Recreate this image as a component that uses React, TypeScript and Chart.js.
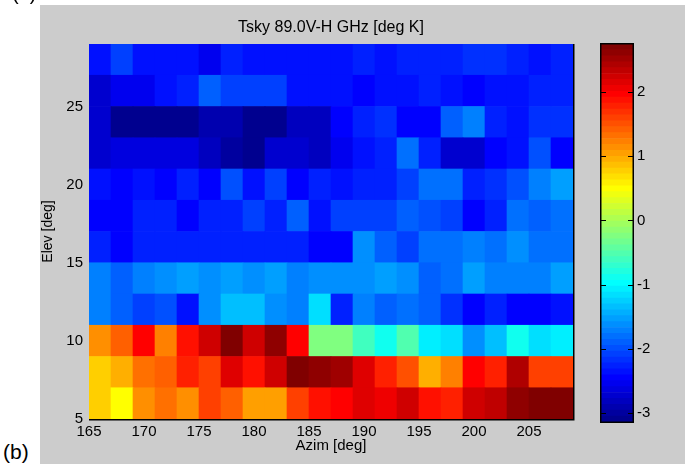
import { useEffect, useRef } from 'react';
import { Chart, registerables } from 'chart.js';

Chart.register(...registerables);

// Column centres (azimuth, deg) and row centres (elevation, deg)
const azimuths = [166, 168, 170, 172, 174, 176, 178, 180, 182, 184, 186, 188, 190, 192, 194, 196, 198, 200, 202, 204, 206, 208];
const elevations = [6, 8, 10, 12, 14, 16, 18, 20, 22, 24, 26, 28];

// Tsky 89.0V-H GHz [deg K], one array per elevation row, left to right in azimuth
const tsky_el06 = [0.78, 0.54, 1.15, 1.33, 1.18, 1.56, 1.39, 1.09, 1.09, 1.62, 1.84, 2.0, 2.13, 2.08, 2.21, 1.9, 1.75, 2.21, 2.37, 2.57, 2.75, 2.67];
const tsky_el08 = [0.78, 0.94, 1.36, 1.44, 1.78, 1.59, 2.13, 1.9, 2.28, 2.75, 2.64, 2.55, 2.14, 1.78, 1.53, 1.0, 1.21, 2.01, 1.75, 2.43, 1.62, 1.56];
const tsky_el10 = [1.18, 1.39, 2.01, 1.24, 1.84, 2.28, 2.75, 2.28, 2.59, 2.01, -0.23, -0.23, -0.58, -0.93, -0.54, -1.08, -1.13, -1.6, -1.32, -0.93, -1.2, -1.11];
const tsky_el12 = [-1.68, -1.88, -2.05, -2.0, -2.35, -1.65, -1.39, -1.39, -1.65, -1.7, -1.14, -2.22, -1.7, -1.93, -1.83, -1.88, -2.2, -2.47, -2.3, -2.47, -2.47, -2.36];
const tsky_el14 = [-1.7, -1.9, -1.7, -1.65, -1.57, -1.65, -1.57, -1.62, -1.54, -1.68, -1.65, -1.6, -1.65, -1.51, -1.65, -1.88, -1.77, -1.51, -1.7, -1.68, -1.7, -1.57];
const tsky_el16 = [-2.24, -2.45, -2.27, -2.22, -2.22, -2.22, -2.22, -2.22, -2.22, -2.27, -2.47, -2.47, -1.6, -1.88, -2.05, -1.83, -1.83, -1.7, -1.77, -1.65, -1.83, -1.77];
const tsky_el18 = [-2.45, -2.47, -2.27, -2.27, -2.42, -2.25, -2.25, -2.05, -2.22, -1.88, -2.38, -2.05, -2.05, -2.05, -1.93, -2.0, -2.1, -2.42, -2.24, -1.83, -1.93, -1.77];
const tsky_el20 = [-2.33, -2.47, -2.33, -2.45, -2.26, -2.42, -1.99, -2.4, -2.05, -2.42, -2.27, -2.35, -2.25, -2.25, -2.05, -1.78, -1.83, -2.24, -2.2, -2.0, -1.7, -1.57];
const tsky_el22 = [-2.72, -2.63, -2.63, -2.63, -2.63, -2.86, -2.99, -3.05, -2.7, -2.7, -2.83, -2.57, -2.4, -2.22, -1.8, -2.27, -2.7, -2.72, -2.45, -2.38, -2.0, -2.45];
const tsky_el24 = [-2.77, -3.1, -3.12, -3.14, -3.08, -2.95, -2.95, -3.07, -3.07, -2.85, -2.85, -2.48, -2.25, -2.18, -2.48, -2.45, -1.91, -1.68, -2.24, -2.36, -2.2, -2.2];
const tsky_el26 = [-2.72, -2.55, -2.55, -2.37, -2.26, -1.91, -2.05, -2.05, -2.05, -2.4, -2.33, -2.33, -2.42, -2.32, -2.32, -2.3, -2.32, -2.42, -2.4, -2.38, -2.3, -2.3];
const tsky_el28 = [-2.4, -2.05, -2.38, -2.38, -2.38, -2.5, -2.25, -2.35, -2.4, -2.33, -2.33, -2.33, -2.28, -2.33, -2.28, -2.28, -2.31, -2.2, -2.2, -2.27, -2.34, -2.29];

const rowsByElevation = [tsky_el06, tsky_el08, tsky_el10, tsky_el12, tsky_el14, tsky_el16, tsky_el18, tsky_el20, tsky_el22, tsky_el24, tsky_el26, tsky_el28];

const cellHeight = 2; // deg elevation
const azimRange = [165, 209];
const elevRange = [5, 29];
const xTickValues = [165, 170, 175, 180, 185, 190, 195, 200, 205];
const yTickValues = [5, 10, 15, 20, 25];
const colorLimits = [-3.14, 2.75];
const colorbarTickValues = [-3, -2, -1, 0, 1, 2];
const colorLevels = 64;

const titleText = 'Tsky 89.0V-H GHz [deg K]';
const xTitle = 'Azim [deg]';
const yTitle = 'Elev [deg]';

const FONT = '"Liberation Sans", Arial, Helvetica, sans-serif';
const TEXT = '#000000';

// MATLAB jet(64)
function jetLevel(k: number): string {
  const u = (i: number) => {
    if (i < 1 || i > 47) return 0;
    if (i <= 16) return i / 16;
    if (i <= 31) return 1;
    return (48 - i) / 16;
  };
  const r = u(k - 24);
  const g = u(k - 8);
  const b = u(k + 8);
  return `rgb(${Math.round(r * 255)},${Math.round(g * 255)},${Math.round(b * 255)})`;
}

function colorFor(v: number): string {
  const [lo, hi] = colorLimits;
  let k = Math.floor(((v - lo) / (hi - lo)) * colorLevels) + 1;
  k = Math.max(1, Math.min(colorLevels, k));
  return jetLevel(k);
}

const frameLines = {
  id: 'frameLines',
  afterDatasetsDraw(chart: any) {
    const { ctx, chartArea } = chart;
    const { left, right, top, bottom } = chartArea;
    ctx.save();
    ctx.strokeStyle = '#000';
    ctx.lineWidth = 1.5;
    ctx.beginPath();
    ctx.moveTo(left, bottom + 0.75);
    ctx.lineTo(right + 0.75, bottom + 0.75);
    ctx.lineTo(right + 0.75, top);
    ctx.stroke();
    ctx.restore();
  },
};

const colorbarMarks = {
  id: 'colorbarMarks',
  afterDatasetsDraw(chart: any) {
    const { ctx, chartArea } = chart;
    const { left, right, top, bottom } = chartArea;
    const ys = chart.scales.y;
    ctx.save();
    ctx.strokeStyle = '#000';
    ctx.lineWidth = 1;
    ctx.beginPath();
    for (const t of colorbarTickValues) {
      const y = Math.round(ys.getPixelForValue(t)) + 0.5;
      ctx.moveTo(left, y);
      ctx.lineTo(left + 5, y);
      ctx.moveTo(right - 5, y);
      ctx.lineTo(right, y);
    }
    ctx.stroke();
    ctx.lineWidth = 1.5;
    ctx.strokeRect(left - 0.25, top - 0.25, right - left + 0.5, bottom - top + 0.5);
    ctx.restore();
  },
};

export default function App() {
  const mainRef = useRef<HTMLCanvasElement>(null);
  const barRef = useRef<HTMLCanvasElement>(null);

  useEffect(() => {
    const datasets = elevations.map((el, r) => ({
      label: `el ${el}`,
      data: azimuths.map((az) => ({ x: az, y: [el - cellHeight / 2, el + cellHeight / 2] })),
      backgroundColor: rowsByElevation[r].map((v) => colorFor(v)),
      borderWidth: 0,
      grouped: false,
      barPercentage: 1,
      categoryPercentage: 1,
    }));

    const main = new Chart(mainRef.current as HTMLCanvasElement, {
      type: 'bar',
      data: { datasets: datasets as any },
      options: {
        animation: false,
        responsive: false,
        maintainAspectRatio: false,
        layout: { padding: { left: 0, right: 112, top: 0, bottom: 0 } },
        plugins: {
          legend: { display: false },
          tooltip: { enabled: false },
          title: {
            display: true,
            text: titleText,
            fullSize: false,
            color: TEXT,
            font: { family: FONT, size: 16, weight: 'normal' },
            padding: { top: 18.4, bottom: 6.4 },
          },
        },
        scales: {
          x: {
            type: 'linear',
            min: azimRange[0],
            max: azimRange[1],
            offset: false,
            afterBuildTicks: (ax: any) => {
              ax.ticks = xTickValues.map((v) => ({ value: v }));
            },
            afterFit: (ax: any) => {
              ax.height = 45;
            },
            ticks: { color: TEXT, font: { family: FONT, size: 15 }, padding: 4.3, maxRotation: 0, autoSkip: false },
            grid: { display: false, drawTicks: false },
            border: { display: false },
            title: { display: true, text: xTitle, color: TEXT, font: { family: FONT, size: 15 }, padding: { top: 0, bottom: 9 } },
          },
          y: {
            type: 'linear',
            min: elevRange[0],
            max: elevRange[1],
            afterBuildTicks: (ax: any) => {
              ax.ticks = yTickValues.map((v) => ({ value: v }));
            },
            afterFit: (ax: any) => {
              ax.width = 89;
            },
            ticks: { color: TEXT, font: { family: FONT, size: 15 }, padding: 6, autoSkip: false },
            grid: { display: false, drawTicks: false },
            border: { display: false },
            title: { display: true, text: yTitle, color: TEXT, font: { family: FONT, size: 14 }, padding: { top: 39.5, bottom: 0 } },
          },
        },
      } as any,
      plugins: [frameLines],
    });

    const span = colorLimits[1] - colorLimits[0];
    const levelIdx = Array.from({ length: colorLevels }, (_, i) => i + 1);
    const cbarSets = levelIdx.map((k) => ({
      label: `level ${k}`,
      data: [[colorLimits[0] + ((k - 1) * span) / colorLevels, colorLimits[0] + (k * span) / colorLevels]],
      backgroundColor: jetLevel(k),
      borderWidth: 0,
      grouped: false,
      barPercentage: 1,
      categoryPercentage: 1,
    }));

    const cbar = new Chart(barRef.current as HTMLCanvasElement, {
      type: 'bar',
      data: { labels: ['cb'], datasets: cbarSets as any },
      options: {
        animation: false,
        responsive: false,
        maintainAspectRatio: false,
        layout: { padding: { left: 21, right: 0, top: 44, bottom: 42 } },
        plugins: { legend: { display: false }, tooltip: { enabled: false }, title: { display: false } },
        scales: {
          x: { display: false, offset: true },
          y: {
            type: 'linear',
            position: 'right',
            min: colorLimits[0],
            max: colorLimits[1],
            afterBuildTicks: (ax: any) => {
              ax.ticks = colorbarTickValues.map((v) => ({ value: v }));
            },
            afterFit: (ax: any) => {
              ax.width = 52;
            },
            ticks: { color: TEXT, font: { family: FONT, size: 15 }, padding: 4, autoSkip: false },
            grid: { display: false, drawTicks: false },
            border: { display: false },
          },
        },
      } as any,
      plugins: [colorbarMarks],
    });

    return () => {
      main.destroy();
      cbar.destroy();
    };
  }, []);

  return (
    <div
      style={{
        position: 'absolute',
        left: 0,
        top: 0,
        width: 685,
        height: 464,
        background: '#ffffff',
        overflow: 'hidden',
        fontFamily: FONT,
        color: '#000',
      }}
    >
      <div style={{ position: 'absolute', left: 40, top: 5, right: 0, bottom: 0, background: '#cccccc' }} />
      <canvas ref={mainRef} width={685} height={464} style={{ position: 'absolute', left: 0, top: 0 }} />
      <canvas ref={barRef} width={105} height={464} style={{ position: 'absolute', left: 580, top: 0 }} />
      <div style={{ position: 'absolute', left: 12, top: -17, fontSize: 20, lineHeight: '20px' }}>(a)</div>
      <div style={{ position: 'absolute', left: 3, top: 440, fontSize: 21, lineHeight: '23px', background: '#fff', paddingRight: 2 }}>(b)</div>
    </div>
  );
}
